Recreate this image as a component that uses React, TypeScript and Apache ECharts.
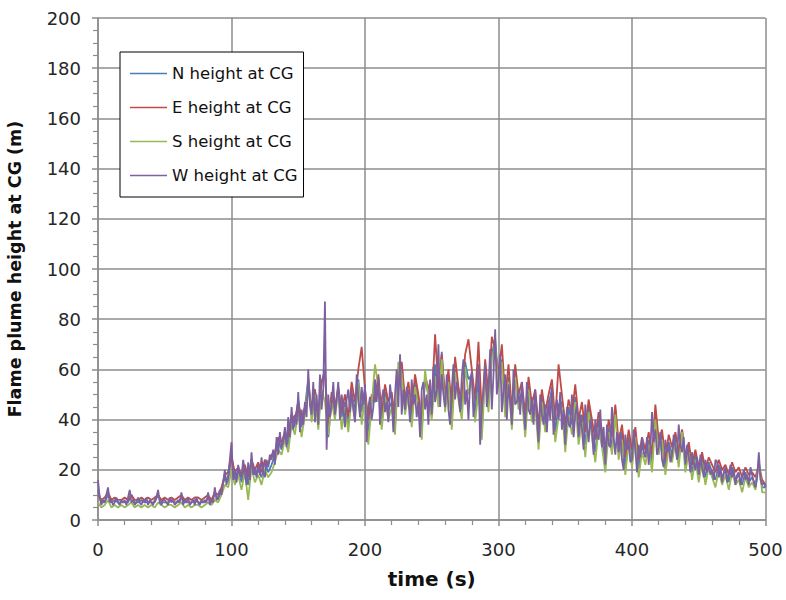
import React, { useEffect, useRef } from "react";
import * as echarts from "echarts";

const STEP_NES = 2.5;
const STEP_W = 1.25;
const xTickLabels = ["0", "100", "200", "300", "400", "500"];
const yTickLabels = ["0", "20", "40", "60", "80", "100", "120", "140", "160", "180", "200"];
const seriesNames = ["N height at CG", "E height at CG", "S height at CG", "W height at CG"];

// N, E, S sampled every 2.5 s
const nHeight = [
  12, 7, 7, 10, 7, 8, 7, 7, 7, 7, 10, 7, 7, 8, 7, 7, 7, 7, 10, 7,
  7, 7, 8, 7, 7, 9, 7, 7, 7, 8, 7, 7, 7, 9, 7, 11, 8, 12, 17, 15,
  26, 16, 20, 15, 21, 14, 24, 18, 20, 17, 23, 19, 22, 26, 32, 28, 34, 30, 42, 37,
  48, 37, 45, 56, 43, 52, 39, 55, 60, 33, 48, 43, 52, 41, 47, 38, 50, 44, 56, 43,
  52, 34, 48, 47, 55, 39, 51, 44, 47, 37, 58, 62, 45, 52, 40, 55, 47, 36, 56, 50,
  43, 62, 48, 67, 46, 57, 40, 60, 50, 44, 63, 56, 58, 42, 55, 35, 60, 46, 66, 72,
  55, 64, 44, 57, 40, 59, 47, 51, 37, 54, 42, 48, 32, 49, 38, 46, 52, 35, 46, 47,
  32, 45, 38, 49, 34, 42, 30, 45, 36, 27, 40, 32, 23, 37, 29, 44, 27, 35, 21, 33,
  24, 35, 20, 30, 25, 32, 22, 42, 29, 34, 21, 31, 26, 33, 24, 36, 22, 29, 19, 26,
  18, 25, 17, 23, 19, 16, 22, 17, 20, 15, 21, 16, 18, 14, 19, 15, 17, 14, 23, 13,
  13,
];

const eHeight = [
  10, 8, 9, 11, 8, 9, 8, 8, 9, 8, 10, 8, 8, 9, 8, 9, 8, 9, 10, 8,
  9, 8, 9, 8, 9, 10, 8, 9, 8, 9, 9, 8, 9, 10, 8, 11, 10, 13, 18, 19,
  25, 19, 21, 18, 22, 17, 24, 20, 23, 19, 24, 22, 26, 27, 33, 31, 35, 33, 42, 40,
  47, 40, 45, 52, 45, 52, 41, 55, 58, 38, 51, 45, 53, 43, 50, 41, 55, 47, 60, 69,
  52, 40, 50, 48, 58, 42, 54, 47, 51, 40, 57, 63, 48, 55, 44, 58, 50, 40, 57, 53,
  46, 74, 52, 66, 49, 60, 45, 65, 53, 47, 66, 72, 60, 48, 71, 42, 64, 50, 73, 68,
  58, 70, 49, 62, 44, 62, 50, 55, 42, 57, 46, 52, 38, 52, 43, 50, 56, 40, 62, 50,
  38, 48, 42, 54, 40, 47, 35, 48, 40, 32, 43, 36, 28, 40, 33, 46, 31, 38, 25, 36,
  28, 37, 24, 33, 28, 35, 26, 46, 32, 36, 24, 34, 29, 35, 27, 36, 25, 31, 22, 28,
  21, 27, 20, 25, 22, 19, 24, 20, 22, 18, 23, 19, 21, 17, 21, 18, 19, 17, 22, 16,
  14,
];

const sHeight = [
  7, 5, 6, 8, 5, 6, 5, 6, 5, 6, 7, 5, 6, 5, 6, 5, 6, 5, 7, 6,
  5, 6, 6, 5, 6, 7, 5, 6, 5, 6, 6, 5, 6, 7, 6, 8, 7, 10, 14, 13,
  20, 14, 18, 12, 19, 8, 21, 15, 18, 14, 20, 17, 19, 23, 28, 26, 32, 27, 38, 34,
  44, 33, 42, 55, 39, 50, 36, 52, 47, 34, 47, 40, 52, 36, 45, 35, 49, 40, 55, 38,
  50, 30, 46, 62, 53, 36, 49, 40, 45, 34, 63, 58, 42, 50, 37, 53, 45, 32, 60, 48,
  40, 57, 45, 64, 43, 55, 36, 59, 48, 40, 61, 50, 56, 39, 51, 32, 58, 43, 64, 70,
  52, 63, 41, 55, 36, 57, 44, 49, 33, 52, 39, 46, 28, 47, 35, 43, 50, 31, 41, 45,
  27, 42, 34, 47, 30, 39, 25, 43, 33, 23, 37, 29, 19, 35, 26, 42, 24, 32, 18, 31,
  21, 33, 17, 27, 22, 30, 19, 40, 26, 32, 18, 29, 23, 31, 21, 35, 19, 27, 16, 24,
  15, 23, 14, 21, 17, 13, 20, 14, 18, 12, 19, 14, 16, 11, 17, 13, 15, 12, 24, 11,
  11,
];

// W sampled every 1.25 s (one row = 10 s)
const wHeight = [
  16, 9, 6, 8, 7, 10, 13, 7,
  8, 6, 7, 9, 7, 6, 8, 7,
  8, 6, 9, 12, 7, 8, 6, 7,
  9, 7, 6, 8, 7, 9, 6, 8,
  7, 6, 8, 9, 12, 7, 6, 8,
  8, 7, 6, 9, 7, 8, 6, 7,
  8, 7, 11, 6, 8, 7, 9, 6,
  7, 8, 6, 9, 7, 6, 8, 7,
  8, 7, 11, 6, 8, 7, 13, 8,
  9, 12, 10, 15, 20, 14, 18, 24,
  31, 16, 20, 15, 22, 18, 17, 24,
  19, 14, 23, 16, 27, 18, 21, 17,
  22, 18, 25, 19, 17, 24, 21, 26,
  24, 28, 22, 33, 26, 35, 29, 31,
  37, 29, 41, 33, 45, 36, 42, 38,
  51, 35, 44, 38, 47, 41, 60, 46,
  42, 55, 39, 50, 38, 58, 44, 52,
  87, 28, 50, 41, 46, 55, 42, 48,
  55, 40, 50, 45, 37, 48, 52, 43,
  52, 44, 39, 58, 48, 41, 53, 46,
  54, 31, 45, 49, 40, 45, 56, 47,
  57, 38, 48, 52, 43, 47, 39, 54,
  48, 35, 50, 60, 45, 66, 42, 52,
  44, 53, 48, 39, 56, 46, 50, 41,
  47, 33, 52, 55, 44, 50, 38, 56,
  42, 61, 47, 52, 70, 45, 58, 50,
  45, 58, 44, 38, 52, 62, 48, 55,
  50, 43, 57, 64, 46, 52, 40, 55,
  59, 41, 48, 54, 62, 30, 45, 51,
  62, 45, 52, 68, 44, 58, 76, 50,
  55, 66, 43, 52, 58, 40, 54, 47,
  38, 60, 46, 47, 52, 42, 55, 45,
  36, 55, 44, 42, 49, 38, 52, 41,
  31, 50, 42, 38, 46, 35, 48, 40,
  53, 34, 44, 48, 40, 51, 36, 44,
  30, 45, 38, 37, 50, 33, 42, 46,
  33, 42, 36, 28, 46, 38, 31, 40,
  36, 26, 40, 34, 32, 44, 29, 37,
  22, 38, 30, 29, 45, 33, 26, 35,
  27, 35, 24, 20, 34, 28, 31, 23,
  24, 36, 28, 19, 30, 25, 33, 27,
  25, 33, 22, 28, 43, 31, 36, 26,
  29, 35, 24, 21, 32, 27, 30, 23,
  26, 34, 29, 24, 38, 30, 27, 33,
  22, 30, 25, 19, 27, 23, 20, 25,
  18, 26, 21, 17, 24, 19, 22, 18,
  20, 16, 24, 23, 17, 21, 15, 19,
  21, 15, 18, 22, 17, 20, 14, 18,
  19, 14, 17, 20, 16, 18, 14, 21,
  18, 15, 13, 17, 27, 16, 14, 15,
  13,
];

const colors = ["#4a7ebb", "#be4b48", "#98b954", "#7d60a0"];

const toPairs = (arr: number[], step: number) => arr.map((v, i) => [i * step, v]);

export default function App() {
  const ref = useRef<HTMLDivElement>(null);
  useEffect(() => {
    document.body.style.margin = "0";
    document.body.style.overflow = "hidden";
    if (!ref.current) return;
    const chart = echarts.init(ref.current, null, { renderer: "svg" });
    const allData = [nHeight, eHeight, sHeight, wHeight];
    const steps = [STEP_NES, STEP_NES, STEP_NES, STEP_W];
    const gridColor = "#8c8c8c";
    const font = "DejaVu Sans";
    chart.setOption({
      animation: false,
      backgroundColor: "#ffffff",
      color: colors,
      textStyle: { fontFamily: font },
      grid: {
        left: 98,
        right: 20.5,
        top: 18,
        bottom: 80,
        containLabel: false,
        outerBoundsMode: "none",
      },
      legend: {
        orient: "vertical",
        left: 120,
        top: 52,
        padding: [13, 6, 13, 10],
        itemGap: 17,
        icon: "rect",
        itemWidth: 37,
        itemHeight: 1.5,
        borderColor: "#000000",
        borderWidth: 1,
        backgroundColor: "#ffffff",
        textStyle: { fontFamily: font, fontSize: 16.5, color: "#111", lineHeight: 16 },
        data: seriesNames,
      },
      xAxis: {
        type: "value",
        min: 0,
        max: 500,
        interval: 100,
        name: "time (s)",
        nameLocation: "middle",
        nameGap: 49,
        nameTextStyle: { fontFamily: font, fontWeight: "bold", fontSize: 20, color: "#111" },
        axisLine: { show: true, lineStyle: { color: gridColor, width: 1.5 } },
        axisTick: { show: true, inside: false, length: 6, lineStyle: { color: gridColor, width: 1.5 } },
        minorTick: { show: true, splitNumber: 5, length: 5, lineStyle: { color: gridColor, width: 1.2 } },
        axisLabel: {
          fontFamily: font,
          fontSize: 18,
          color: "#262626",
          margin: 20,
          formatter: (v: number) => xTickLabels[Math.round(v / 100)] ?? String(v),
        },
        splitLine: { show: true, lineStyle: { color: gridColor, width: 1.5 } },
      },
      yAxis: {
        type: "value",
        min: 0,
        max: 200,
        interval: 20,
        name: "Flame plume height at CG (m)",
        nameLocation: "middle",
        nameGap: 74,
        nameTextStyle: { fontFamily: font, fontWeight: "bold", fontSize: 17.5, color: "#111" },
        axisLine: { show: true, lineStyle: { color: gridColor, width: 1.5 } },
        axisTick: { show: true, inside: false, length: 6, lineStyle: { color: gridColor, width: 1.5 } },
        minorTick: { show: true, splitNumber: 4, length: 5, lineStyle: { color: gridColor, width: 1.2 } },
        axisLabel: {
          fontFamily: font,
          fontSize: 18,
          color: "#262626",
          margin: 17,
          formatter: (v: number) => yTickLabels[Math.round(v / 20)] ?? String(v),
        },
        splitLine: { show: true, lineStyle: { color: gridColor, width: 1.5 } },
      },
      series: seriesNames.map((name, i) => ({
        name,
        type: "line",
        symbol: "none",
        data: toPairs(allData[i], steps[i]),
        lineStyle: { width: 1.8, color: colors[i] },
        itemStyle: { color: colors[i] },
      })),
    });
    return () => chart.dispose();
  }, []);
  return <div ref={ref} style={{ width: 786, height: 600 }} />;
}
